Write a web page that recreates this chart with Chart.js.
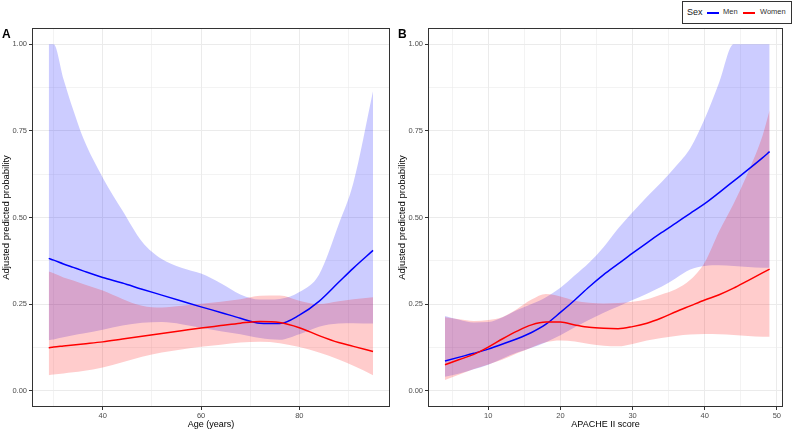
<!DOCTYPE html>
<html>
<head>
<meta charset="utf-8">
<script src="https://cdn.jsdelivr.net/npm/chart.js@4.4.1/dist/chart.umd.min.js"></script>
<style>
  body { margin: 0; background: #fff; font-family: "Liberation Sans", Arial, sans-serif; }
  #wrap { position: relative; width: 792px; height: 432px; overflow: hidden; }
  .panel { position: absolute; top: 0; }
  .tag { position: absolute; top: 28px; font-size: 12px; line-height: 12px; font-weight: bold; color: #000; }
  #legend { position: absolute; left: 682px; top: 1px; width: 108px; height: 21px; border: 1px solid #333; background: #fff; }
  #legend span { position: absolute; white-space: nowrap; }
  #legend .ttl { left: 4px; top: 5px; font-size: 9px; line-height: 11px; color: #1A1A1A; }
  #legend .key { top: 10px; width: 12px; height: 1.5px; }
  #legend .lab { top: 5px; font-size: 7.5px; line-height: 10px; color: #333333; }
</style>
</head>
<body>
<div id="wrap">
  <canvas id="chartA" class="panel" style="left:0px" width="396" height="432"></canvas>
  <canvas id="chartB" class="panel" style="left:396px" width="396" height="432"></canvas>
  <div class="tag" style="left:2px">A</div>
  <div class="tag" style="left:398px">B</div>
  <div id="legend">
    <span class="ttl">Sex</span>
    <span class="key" style="left:24px; background:#0000FF"></span>
    <span class="lab" style="left:40px">Men</span>
    <span class="key" style="left:60px; background:#FF0000"></span>
    <span class="lab" style="left:77px">Women</span>
  </div>
</div>
<script>
// Panel A: age
const ageYears = [29, 30, 32, 34, 36, 40, 44, 48, 52, 56, 60, 64, 68, 72, 76, 80, 84, 88, 91, 95];
const menFitA = [0.382, 0.377, 0.366, 0.356, 0.346, 0.327, 0.311, 0.293, 0.276, 0.259, 0.242, 0.226, 0.209, 0.195, 0.194, 0.218, 0.258, 0.313, 0.354, 0.405];
const menLowA = [0.146, 0.148, 0.154, 0.16, 0.165, 0.176, 0.188, 0.196, 0.198, 0.192, 0.182, 0.172, 0.163, 0.152, 0.147, 0.163, 0.185, 0.194, 0.195, 0.194];
const menHighA = [1.0, 1.0, 0.9, 0.81, 0.73, 0.615, 0.52, 0.43, 0.38, 0.355, 0.338, 0.31, 0.278, 0.263, 0.265, 0.285, 0.335, 0.48, 0.6, 0.865];
const womenFitA = [0.124, 0.126, 0.129, 0.132, 0.135, 0.141, 0.149, 0.157, 0.165, 0.173, 0.181, 0.188, 0.195, 0.2, 0.197, 0.182, 0.159, 0.139, 0.128, 0.113];
const womenLowA = [0.045, 0.047, 0.05, 0.053, 0.057, 0.067, 0.082, 0.098, 0.11, 0.119, 0.127, 0.133, 0.139, 0.141, 0.137, 0.126, 0.11, 0.09, 0.072, 0.045];
const womenHighA = [0.344, 0.339, 0.327, 0.318, 0.308, 0.289, 0.265, 0.245, 0.24, 0.245, 0.251, 0.257, 0.264, 0.274, 0.275, 0.26, 0.25, 0.258, 0.264, 0.27];

// Panel B: APACHE II
const apacheScore = [4, 6, 8, 10, 12, 14, 16, 18, 20, 22, 24, 26, 28, 30, 32, 34, 36, 38, 40, 42, 44, 46, 48, 49];
const menFitB = [0.086, 0.097, 0.108, 0.12, 0.135, 0.15, 0.168, 0.192, 0.226, 0.262, 0.3, 0.335, 0.366, 0.397, 0.427, 0.456, 0.484, 0.512, 0.54, 0.572, 0.605, 0.638, 0.672, 0.69];
const menLowB = [0.04, 0.05, 0.062, 0.075, 0.093, 0.11, 0.124, 0.14, 0.16, 0.183, 0.205, 0.225, 0.243, 0.262, 0.28, 0.3, 0.325, 0.35, 0.36, 0.362, 0.36, 0.357, 0.355, 0.355];
const menHighB = [0.216, 0.205, 0.197, 0.198, 0.212, 0.233, 0.25, 0.27, 0.297, 0.333, 0.37, 0.415, 0.468, 0.515, 0.56, 0.602, 0.648, 0.7, 0.785, 0.89, 1.0, 1.0, 1.0, 1.0];
const womenFitB = [0.075, 0.09, 0.105, 0.126, 0.15, 0.172, 0.19, 0.198, 0.198, 0.19, 0.183, 0.18, 0.179, 0.185, 0.195, 0.21, 0.228, 0.245, 0.262, 0.277, 0.296, 0.318, 0.34, 0.351];
const womenLowB = [0.031, 0.047, 0.063, 0.076, 0.09, 0.108, 0.125, 0.14, 0.145, 0.142, 0.135, 0.13, 0.128, 0.135, 0.145, 0.152, 0.158, 0.162, 0.164, 0.163, 0.161, 0.158, 0.156, 0.156];
const womenHighB = [0.212, 0.206, 0.201, 0.204, 0.213, 0.236, 0.263, 0.279, 0.272, 0.26, 0.254, 0.252, 0.253, 0.257, 0.264, 0.278, 0.293, 0.32, 0.37, 0.46, 0.54, 0.63, 0.735, 0.81];

// axis breaks
const yGrid = [0, 0.125, 0.25, 0.375, 0.5, 0.625, 0.75, 0.875, 1];
const yMajor = [0, 0.25, 0.5, 0.75, 1];
const ageGrid = [30, 40, 50, 60, 70, 80, 90];
const ageMajor = [40, 60, 80];
const apacheGrid = [5, 10, 15, 20, 25, 30, 35, 40, 45, 50];
const apacheMajor = [10, 20, 30, 40, 50];

const MEN = "#0000FF";
const WOMEN = "#FF0000";
const FONT = "'Liberation Sans', Arial, sans-serif";

// ggplot style frame round the panel
const panelBorder = {
    id: "panelBorder",
    afterDraw(chart) {
        const {ctx, chartArea: a} = chart;
        ctx.save();
        ctx.strokeStyle = "#333333";
        ctx.lineWidth = 1;
        ctx.strokeRect(a.left + 0.5, a.top + 0.5, a.right - a.left - 1, a.bottom - a.top - 1);
        ctx.restore();
    }
};

function isIn(list, v) {
    return list.some(m => Math.abs(m - v) < 1e-9);
}

function pts(xs, ys) {
    return xs.map((x, i) => ({x: x, y: ys[i]}));
}

function line(xs, ys, color) {
    return {
        data: pts(xs, ys), borderColor: color, borderWidth: 1.5,
        pointRadius: 0, fill: false, cubicInterpolationMode: "monotone"
    };
}

function ribbon(xs, ys, color, fill) {
    return {
        data: pts(xs, ys), borderWidth: 0, borderColor: "rgba(0,0,0,0)",
        backgroundColor: color, pointRadius: 0, fill: fill,
        cubicInterpolationMode: "monotone"
    };
}

function makePanel(id, xs, men, women, xMin, xMax, xGrid, xMajor, xTitle, padRight) {
    new Chart(document.getElementById(id), {
        type: "line",
        data: {
            datasets: [
                line(xs, women.fit, WOMEN),
                line(xs, men.fit, MEN),
                ribbon(xs, women.high, "rgba(255,0,0,0.2)", "+1"),
                ribbon(xs, women.low, "rgba(255,0,0,0.2)", false),
                ribbon(xs, men.high, "rgba(0,0,255,0.2)", "+1"),
                ribbon(xs, men.low, "rgba(0,0,255,0.2)", false)
            ]
        },
        options: {
            responsive: false,
            animation: false,
            layout: { padding: { top: 28, right: padRight, left: 0, bottom: 0 } },
            plugins: {
                legend: { display: false },
                tooltip: { enabled: false },
                filler: { drawTime: "beforeDatasetsDraw" }
            },
            scales: {
                x: {
                    type: "linear", min: xMin, max: xMax,
                    afterBuildTicks: s => { s.ticks = xGrid.map(v => ({value: v})); },
                    afterFit: s => { s.height = 25; },
                    border: { display: false },
                    grid: {
                        color: "#EBEBEB",
                        lineWidth: c => isIn(xMajor, c.tick.value) ? 1 : 0.6,
                        tickColor: c => isIn(xMajor, c.tick.value) ? "#333333" : "rgba(0,0,0,0)",
                        tickLength: 3, tickWidth: 1
                    },
                    ticks: {
                        autoSkip: false, maxRotation: 0, padding: 1,
                        color: "#4D4D4D", font: { family: FONT, size: 7.5 },
                        callback: v => isIn(xMajor, v) ? String(v) : ""
                    },
                    title: {
                        display: true, text: xTitle, color: "#000",
                        font: { family: FONT, size: 9 }, padding: { top: 0, bottom: 2 }
                    }
                },
                y: {
                    type: "linear", min: -0.047, max: 1.047,
                    afterBuildTicks: s => { s.ticks = yGrid.map(v => ({value: v})); },
                    afterFit: s => { s.width = 32; },
                    border: { display: false },
                    grid: {
                        color: "#EBEBEB",
                        lineWidth: c => isIn(yMajor, c.tick.value) ? 1 : 0.6,
                        tickColor: c => isIn(yMajor, c.tick.value) ? "#333333" : "rgba(0,0,0,0)",
                        tickLength: 3, tickWidth: 1
                    },
                    ticks: {
                        autoSkip: false, padding: 2,
                        color: "#4D4D4D", font: { family: FONT, size: 7.5 },
                        callback: v => isIn(yMajor, v) ? v.toFixed(2) : ""
                    },
                    title: {
                        display: true, text: "Adjusted predicted probability", color: "#000",
                        font: { family: FONT, size: 9.5 }, padding: { top: 1, bottom: 0 }
                    }
                }
            }
        },
        plugins: [panelBorder]
    });
}

makePanel("chartA", ageYears,
    { fit: menFitA, low: menLowA, high: menHighA },
    { fit: womenFitA, low: womenLowA, high: womenHighA },
    25.6, 98.45, ageGrid, ageMajor, "Age (years)", 6);

makePanel("chartB", apacheScore,
    { fit: menFitB, low: menLowB, high: menHighB },
    { fit: womenFitB, low: womenLowB, high: womenHighB },
    1.65, 50.85, apacheGrid, apacheMajor, "APACHE II score", 9);
</script>
</body>
</html>
